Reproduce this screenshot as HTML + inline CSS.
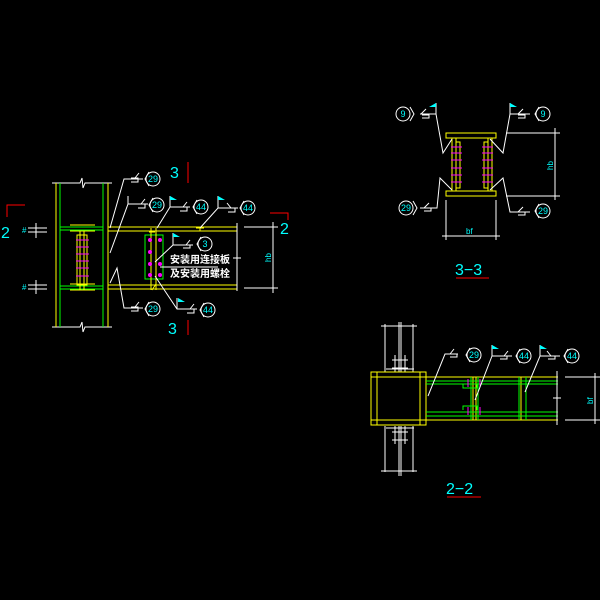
<!DOCTYPE html>
<html><head><meta charset="utf-8"><style>
html,body{margin:0;padding:0;background:#000;}
svg{display:block}
text{font-family:"Liberation Sans","Noto Sans CJK SC",sans-serif;}
</style></head><body>
<svg width="600" height="600" viewBox="0 0 600 600" xmlns="http://www.w3.org/2000/svg">
<rect width="600" height="600" fill="#000"/>
<g fill="none" stroke-width="1">
<!-- LEFT DETAIL -->
<!-- column -->
<path d="M52 183H80l2-5 1 10 2-5H112 M52 327H80l2-5 1 10 2-5H112" stroke="#fff"/>
<path d="M56 183V327 M108 183V327" stroke="#ff0"/>
<path d="M60 183V327 M103 183V327" stroke="#0f0"/>
<path d="M60 227H103 M60 230H103 M60 286H103 M60 289H103" stroke="#0f0"/>
<path d="M70 225H95 M70 231H95 M70 284H95 M70 290H95" stroke="#ff0"/>
<rect x="77" y="235" width="10" height="50" stroke="#ff0"/>
<path d="M80 231V290 M84 231V290" stroke="#ff0"/>
<path d="M76 240H89 M76 247H89 M76 254H89 M76 261H89 M76 268H89 M76 276H89" stroke="#f0f"/>
<!-- left dims -->
<path d="M28 228H47 M28 232H47 M36 223V238 M28 285H47 M28 289H47 M36 280V294" stroke="#fff"/>
<!-- beam -->
<path d="M108 227H237 M108 231H237 M108 285H237 M108 289H237" stroke="#ff0"/>
<path d="M237 223V291 M233 258H241" stroke="#fff"/>
<rect x="145" y="235" width="18" height="44" stroke="#0f0"/>
<path d="M151 228V290 M156 228V290" stroke="#ff0"/>
<path d="M149 232h6 M152 290l4 -6" stroke="#ff0"/>
<path d="M196 228h8 M200 228v3" stroke="#ff0"/>
<!-- hb dim -->
<path d="M244 227H278 M244 288H278 M273 222V293" stroke="#fff"/>
<path d="M160 267H218" stroke="#fff"/>
<!-- red section marks -->
<path d="M7 217V205H25 M270 213H288V220 M188 162V183 M188 320V335" stroke="#f00"/>
<!-- leaders left -->
<path d="M110 228L124 179H143 M131 178h7v4h-7 M135 178l4-5" stroke="#fff"/>
<path d="M110 253L128 204H148 M128 196V204 M138 204h7v4h-7 M141 204l4-5" stroke="#fff"/>
<path d="M157 228L170 207H190 M170 207V196 M180 207h7v4h-7 M183 207l4-5" stroke="#fff"/>
<path d="M200 228L218 208H238 M218 208V196 M228 208h7v4h-7 M231 208l-4-5" stroke="#fff"/>
<path d="M155 262L173 245H193 M173 245V233 M183 245h7v3h-7 M186 245l4-5" stroke="#fff"/>
<path d="M110 283L117 268L124 308H143 M131 307h7v4h-7 M135 307l4-5" stroke="#fff"/>
<path d="M155 276L177 309H197 M177 309V298 M187 309h7v4h-7 M190 309l4-5" stroke="#fff"/>
<!-- RIGHT TOP 3-3 -->
<rect x="446" y="133" width="50" height="5" stroke="#ff0"/>
<rect x="446" y="191" width="50" height="5" stroke="#ff0"/>
<path d="M452 138V191 M456 138V191 M456 142h4V188h-4 M492 138V191 M488 138V191 M488 142h-4V188h4" stroke="#ff0"/>
<path d="M451 147h11 M451 153h11 M451 160h11 M451 168h11 M451 175h11 M451 182h11 M482 147h11 M482 153h11 M482 160h11 M482 168h11 M482 175h11 M482 182h11" stroke="#f0f"/>
<path d="M506 133H560 M506 196H560 M555 128V200 M446 200V240 M496 200V240 M442 236H500" stroke="#fff"/>
<path d="M436 114L443 153L452 139 M420 114H436V103 M422 115h7v3h-7 M421 114l5-5" stroke="#fff"/>
<path d="M510 114L503 153L490 139 M510 103V114H530 M518 115h7v3h-7 M518 114l5-5" stroke="#fff"/>
<path d="M452 190L440 178L437 208H420 M424 208h7v3h-7 M424 208l5-5" stroke="#fff"/>
<path d="M490 190L503 178L510 212H530 M518 212h7v3h-7 M518 212l5-5" stroke="#fff"/>
<path d="M456 278H489" stroke="#f00"/>
<!-- BOTTOM RIGHT 2-2 -->
<path d="M385 324V372 M413 324V372 M381 326H417 M399 322V372 M401 322V372 M385 426V472 M413 426V472 M381 471H417 M399 426V476 M401 426V476" stroke="#fff"/>
<path d="M395 355V372 M405 355V372 M392 360H408 M392 368H408 M395 426V444 M405 426V444 M392 432H408 M392 440H408 M386 369H414 M386 428H414" stroke="#fff"/>
<rect x="371" y="372" width="55" height="53" stroke="#ff0"/>
<path d="M377 372V425 M420 372V425 M371 377H426 M371 420H426" stroke="#ff0"/>
<path d="M426 377H558 M426 420H558 M473 377V420 M476 377V420 M521 377V420" stroke="#ff0"/>
<path d="M426 381H558 M426 384H558 M426 412H558 M426 416H558 M471 377V420 M478 377V420 M519 377V420 M526 377V420 M463 384v4h14v-4 M463 410v-4h14v4" stroke="#0f0"/>
<path d="M468 379v8 M480 379v8 M468 407v8 M480 407v8" stroke="#f0f"/>
<path d="M557 371V425 M553 398h8 M565 377H600 M565 420H600 M595 373V424" stroke="#fff"/>
<path d="M428 396L445 354H458 M450 354h7v3h-7 M450 354l4-5" stroke="#fff"/>
<path d="M475 400L492 356H512 M492 356V345 M500 356h7v3h-7 M504 356l4-5" stroke="#fff"/>
<path d="M525 392L540 356H560 M540 356V345 M548 356h7v3h-7 M551 356l-4-5" stroke="#fff"/>
<path d="M447 497H481" stroke="#f00"/>
</g>
<!-- flags -->
<g fill="#0ff">
<path d="M170 196l7 4h-7z M218 196l7 4h-7z M173 233l7 4h-7z M178 298l7 4h-7z M436 103l-7 4h7z M510 103l7 4h-7z M492 345l7 4h-7z M540 345l7 4h-7z"/>
</g>
<!-- magenta bolts -->
<g fill="#f0f">
<circle cx="150" cy="240" r="2"/><circle cx="160" cy="240" r="2"/><circle cx="150" cy="252" r="2"/><circle cx="150" cy="264" r="2"/><circle cx="160" cy="264" r="2"/><circle cx="150" cy="275" r="2"/><circle cx="160" cy="275" r="2"/>
</g>
<!-- callout circles -->
<g fill="none" stroke="#fff">
<circle cx="153" cy="179" r="7"/><circle cx="157" cy="205" r="7"/><circle cx="201" cy="207" r="7"/><circle cx="248" cy="208" r="7"/><circle cx="205" cy="244" r="7"/><circle cx="153" cy="309" r="7"/><circle cx="208" cy="310" r="7"/>
<circle cx="403" cy="114" r="7"/><circle cx="543" cy="114" r="7"/><circle cx="406" cy="208" r="7"/><circle cx="543" cy="211" r="7"/>
<circle cx="474" cy="355" r="7"/><circle cx="524" cy="356" r="7"/><circle cx="572" cy="356" r="7"/>
<path d="M149 172l-4 7 4 7 M153 198l-4 7 4 7 M197 200l-4 7 4 7 M244 201l-4 7 4 7 M201 237l-4 7 4 7 M149 302l-4 7 4 7 M204 303l-4 7 4 7 M410 107l4 7-4 7 M539 107l-4 7 4 7 M413 201l4 7-4 7 M539 204l-4 7 4 7 M470 348l-4 7 4 7 M520 349l-4 7 4 7 M568 349l-4 7 4 7"/>
</g>
<g fill="#0ff" font-size="9" text-anchor="middle">
<text x="153" y="182">29</text><text x="157" y="208">29</text><text x="201" y="210">44</text><text x="248" y="211">44</text><text x="205" y="247">3</text><text x="153" y="312">29</text><text x="208" y="313">44</text>
<text x="403" y="117">9</text><text x="543" y="117">9</text><text x="406" y="211">29</text><text x="543" y="214">29</text>
<text x="474" y="358">29</text><text x="524" y="359">44</text><text x="572" y="359">44</text>
</g>
<g fill="#0ff" font-size="16">
<text x="1" y="238">2</text><text x="280" y="234">2</text>
<text x="170" y="178">3</text><text x="168" y="334">3</text>
<text x="455" y="275">3−3</text><text x="446" y="494">2−2</text>
</g>
<g fill="#0ff" font-size="8">
<text x="466" y="234">bf</text>
<text transform="translate(271,262) rotate(-90)">hb</text>
<text transform="translate(553,170) rotate(-90)">hb</text>
<text transform="translate(593,404) rotate(-90)">bf</text>
<text x="22" y="233">#</text><text x="22" y="290">#</text>
</g>
<g fill="#fff" font-size="10" font-weight="bold">
<text x="170" y="263">安装用连接板</text>
<text x="170" y="277">及安装用螺栓</text>
</g>
</svg>
</body></html>
